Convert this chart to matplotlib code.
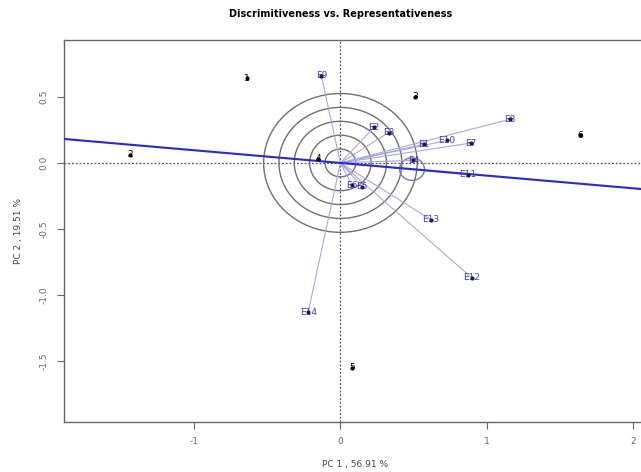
import numpy as np
import matplotlib
matplotlib.use("Agg")
import matplotlib.pyplot as plt
from matplotlib.patches import Circle

# genotype scores (PC1, PC2)
gen_labels = ["1", "2", "3", "4", "5", "6"]
gen_pc1 = [-0.64, -1.44, 0.51, -0.15, 0.08, 1.64]
gen_pc2 = [0.64, 0.06, 0.50, 0.03, -1.55, 0.21]

# environment scores (PC1, PC2)
env_labels = ["E1", "E2", "E3", "E4", "E5", "E6", "E7", "E8", "E9",
              "E10", "E11", "E12", "E13", "E14"]
env_pc1 = [0.57, 0.23, 0.33, 0.50, 0.15, 0.08, 0.89, 1.16, -0.13,
           0.73, 0.87, 0.90, 0.62, -0.22]
env_pc2 = [0.14, 0.27, 0.23, 0.02, -0.18, -0.17, 0.15, 0.33, 0.66,
           0.17, -0.09, -0.87, -0.43, -1.13]

# average environment coordinate
aec = (0.49, -0.047)
circle_radii = [0.105, 0.21, 0.315, 0.42, 0.525]

xticks = [-1, 0, 1, 2]
yticks = [0.5, 0.0, -0.5, -1.0, -1.5]


def main():
    fig = plt.figure(figsize=(6.41, 4.72), dpi=100)
    W, H = 641, 472
    ax = fig.add_axes([64 / W, (H - 422) / H, (646 - 64) / W, (422 - 40) / H])
    ax.set_xlim(-1.89, 2.09)
    ax.set_ylim(-1.96, 0.93)

    # axes through origin
    ax.axhline(0, color="#555555", lw=0.9, ls=(0, (1.5, 1.5)), zorder=1)
    ax.axvline(0, color="#555555", lw=0.9, ls=(0, (1.5, 1.5)), zorder=1)

    # concentric circles
    for r in circle_radii:
        ax.add_patch(Circle((0, 0), r, fill=False, ec="#707070", lw=1.0, zorder=2))
    ax.add_patch(Circle(aec, 0.085, fill=False, ec="#7777aa", lw=1.0, zorder=2))

    # average environment axis
    slope = aec[1] / aec[0]
    xs = np.array([-1.89, 2.09])
    ax.plot(xs, slope * xs, color="#2a2acc", lw=1.5, zorder=3)

    # environment vectors
    for x, y in zip(env_pc1, env_pc2):
        ax.plot([0, x], [0, y], color="#a8a8e0", lw=0.8, zorder=2)
    for lab, x, y in zip(env_labels, env_pc1, env_pc2):
        ax.text(x, y, lab, color="#3a3acc", fontsize=6.5, ha="center",
                va="center", zorder=4)
        ax.plot(x, y, "o", ms=2, color="#1a1a50", zorder=5)

    # genotypes
    for lab, x, y in zip(gen_labels, gen_pc1, gen_pc2):
        ax.text(x, y, lab, color="black", fontsize=6.5, ha="center",
                va="center", zorder=4)
        ax.plot(x, y, "o", ms=2, color="black", zorder=5)

    ax.set_xticks(xticks)
    ax.set_xticklabels([str(t) for t in xticks])
    ax.set_yticks(yticks)
    ax.set_yticklabels(["%.1f" % t for t in yticks], rotation=90, va="center")
    ax.tick_params(colors="#666666", labelsize=6.5, length=5, width=0.8, pad=6)
    for s in ax.spines.values():
        s.set_color("#666666")
        s.set_linewidth(1.0)

    ax.set_xlabel("PC 1 , 56.91 %", fontsize=6.5, color="#444444", labelpad=10)
    ax.set_ylabel("PC 2 , 19.51 %", fontsize=6.5, color="#444444", labelpad=12)
    fig.text(341 / W, 1 - 14 / H, "Discrimitiveness vs. Representativeness",
             ha="center", va="center", fontsize=7, fontweight="bold")

    fig.savefig("out.png", dpi=100)


if __name__ == "__main__":
    main()
